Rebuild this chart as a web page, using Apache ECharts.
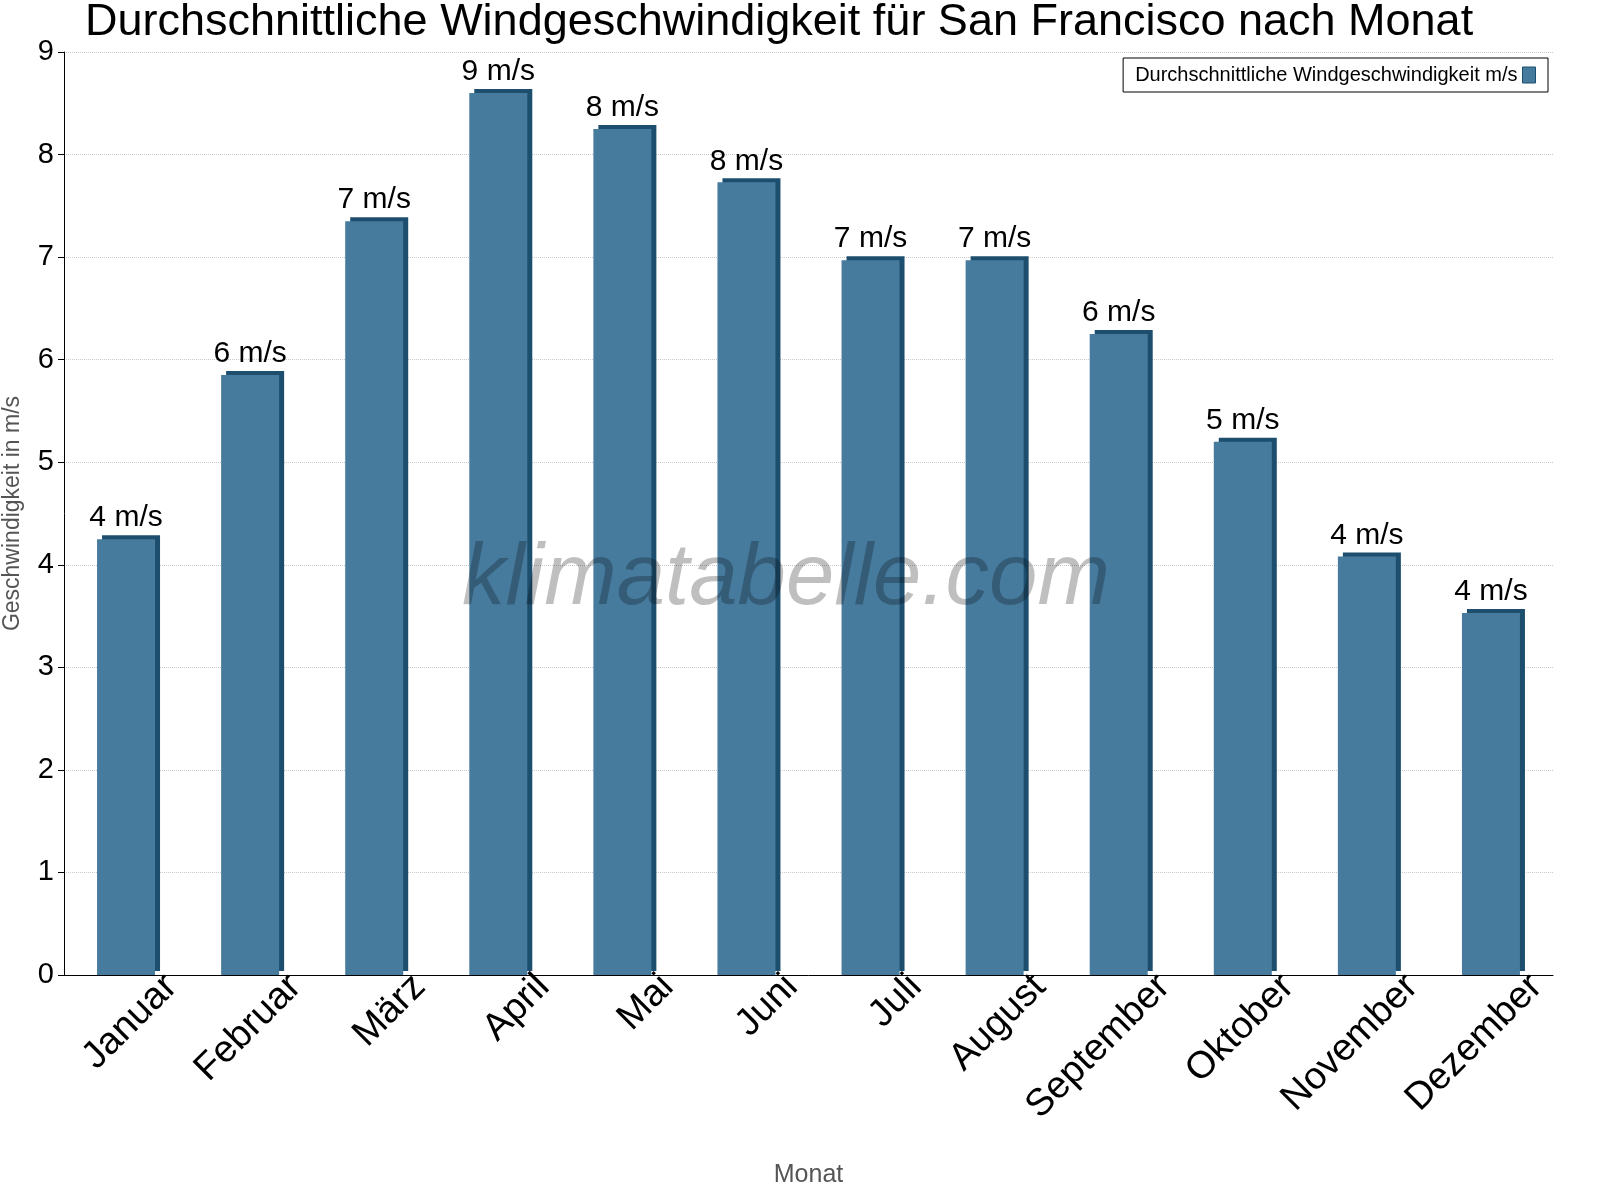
<!DOCTYPE html>
<html>
<head>
<meta charset="utf-8">
<script src="https://cdn.jsdelivr.net/npm/echarts@6/dist/echarts.min.js"></script>
<style>html,body{margin:0;padding:0;background:#fff}#chart{width:1600px;height:1200px}</style>
</head>
<body>
<div id="chart"></div>
<script>
const months = ['Januar', 'Februar', 'März', 'April', 'Mai', 'Juni', 'Juli', 'August', 'September', 'Oktober', 'November', 'Dezember'];
const windSpeed = [4.25, 5.85, 7.35, 8.6, 8.25, 7.73, 6.97, 6.97, 6.25, 5.2, 4.08, 3.53];
const seriesName = 'Durchschnittliche Windgeschwindigkeit m/s';

const chart = echarts.init(document.getElementById('chart'));
chart.setOption({
  animation: false,
  textStyle: { fontFamily: 'Liberation Sans, Arial, sans-serif' },
  title: {
    text: 'Durchschnittliche Windgeschwindigkeit für San Francisco nach Monat',
    left: 80, top: -5,
    textStyle: { fontSize: 45, fontWeight: 'normal', color: '#000' }
  },
  legend: {
    right: 52, top: 58, orient: 'horizontal', align: 'right',
    borderColor: '#000', borderWidth: 1, borderRadius: 0, padding: [7, 12],
    itemWidth: 13, itemHeight: 16, itemGap: 8, icon: 'rect',
    itemStyle: { borderColor: '#1d4e6e', borderWidth: 1 },
    textStyle: { fontSize: 20, color: '#000' },
    data: [seriesName]
  },
  graphic: [{
    type: 'text', left: 462, top: 536,
    style: { text: 'klimatabelle.com', fontSize: 87, fontStyle: 'italic', fill: 'rgba(0,0,0,0.25)', fontFamily: 'Liberation Sans, Arial' },
    z: 100
  }],
  grid: { left: 64, right: 47, top: 52, bottom: 225, outerBoundsMode: 'none' },
  xAxis: {
    type: 'category', data: months,
    name: 'Monat', nameLocation: 'middle', nameGap: 188,
    nameTextStyle: { fontSize: 25, color: '#555' },
    axisLine: { lineStyle: { color: '#000' } },
    axisTick: { alignWithLabel: false, length: 6, lineStyle: { color: '#000' } },
    axisLabel: {
      rotate: 45, fontSize: 38, color: '#000', margin: 6,
      verticalAlign: 'top', lineHeight: 64, padding: [0, -32, 0, 0]
    }
  },
  yAxis: {
    type: 'value', min: 0, max: 9, interval: 1,
    name: 'Geschwindigkeit in m/s', nameLocation: 'middle', nameGap: 40,
    nameTextStyle: { fontSize: 23, color: '#555' },
    axisLine: { show: true, lineStyle: { color: '#000' } },
    axisTick: { show: true, length: 6, lineStyle: { color: '#000' } },
    axisLabel: { fontSize: 29, color: '#000', margin: 10 },
    splitLine: { lineStyle: { type: 'dotted', color: '#c8c8c8' } }
  },
  series: [{
    name: seriesName, type: 'bar', data: windSpeed, barWidth: 58,
    itemStyle: {
      color: '#477b9e',
      shadowColor: '#1d4e6e', shadowOffsetX: 5, shadowOffsetY: -4, shadowBlur: 0
    },
    label: {
      show: true, position: 'top', distance: 6, fontSize: 30, color: '#000',
      formatter: p => Math.round(p.value) + ' m/s'
    },
    z: 2
  }]
});
</script>
</body>
</html>
